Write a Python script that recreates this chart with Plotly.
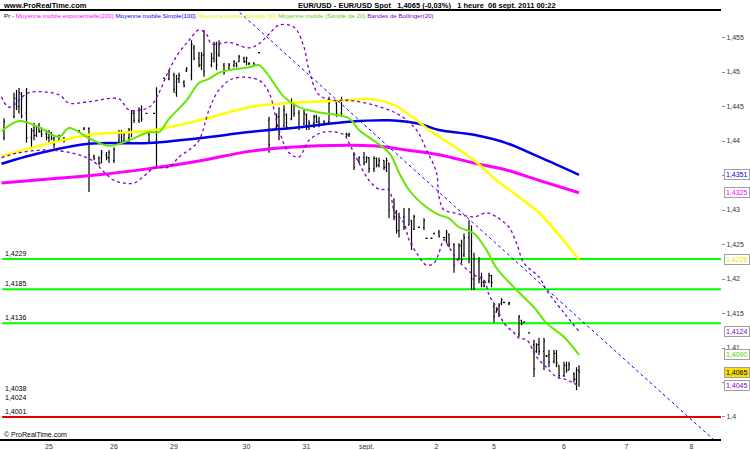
import plotly.graph_objects as go

# ---------------- OHLC bars (hour index, prices) ----------------
bar_hour = [0, 4, 5, 6, 7, 9, 11, 12, 13, 14, 15, 17, 18, 19, 20, 22, 24, 30, 32, 34,
            36, 38, 39, 41, 42, 44, 46, 47, 48, 50, 51, 52, 54, 55, 57, 58, 60, 61, 64, 66,
            68, 69, 70, 72, 73, 75, 76, 78, 79, 80, 83, 84, 85, 86, 88, 90, 92, 93, 94, 96,
            97, 98, 100, 102, 106, 109, 110, 112, 113, 115, 116, 118, 120, 121, 122, 124, 125, 126, 128, 130,
            133, 135, 137, 138, 140, 142, 144, 145, 146, 148, 149, 150, 152, 153, 154, 156, 157, 158, 160, 162,
            163, 164, 166, 168, 169, 171, 172, 174, 176, 177, 178, 180, 182, 183, 184, 186, 187, 188, 190, 191,
            192, 194, 195, 196, 197, 198, 199, 200, 202, 206, 207, 208, 210, 212, 213, 214, 216, 217, 218, 220,
            221, 222, 224, 225, 226, 228, 229, 230]
bar_open = [1.4405, 1.4435, 1.4462, 1.4450, 1.4468, 1.4440, 1.4405, 1.4415, 1.4408, 1.4420, 1.4414, 1.4410, 1.4405, 1.4412, 1.4404, 1.4402, 1.4404, 1.4413, 1.4417, 1.4418,
            1.4378, 1.4375, 1.4368, 1.4380, 1.4376, 1.4372, 1.4400, 1.4413, 1.4400, 1.4405, 1.4412, 1.4440, 1.4430, 1.4445, 1.4440, 1.4410, 1.4440, 1.4400, 1.4491, 1.4490,
            1.4495, 1.4470, 1.4490, 1.4485, 1.4502, 1.4495, 1.4535, 1.4520, 1.4510, 1.4525, 1.4510, 1.4520, 1.4540, 1.4525, 1.4510, 1.4505, 1.4510, 1.4512, 1.4515, 1.4520,
            1.4515, 1.4512, 1.4513, 1.4528, 1.4430, 1.4420, 1.4435, 1.4422, 1.4438, 1.4432, 1.4455, 1.4440, 1.4425, 1.4438, 1.4420, 1.4426, 1.4435, 1.4428, 1.4425, 1.4428,
            1.4455, 1.4440, 1.4410, 1.4409, 1.4380, 1.4370, 1.4376, 1.4370, 1.4376, 1.4360, 1.4375, 1.4365, 1.4372, 1.4362, 1.4368, 1.4300, 1.4290, 1.4270, 1.4290, 1.4278,
            1.4285, 1.4272, 1.4275, 1.4275, 1.4259, 1.4259, 1.4266, 1.4268, 1.4260, 1.4260, 1.4265, 1.4250, 1.4230, 1.4248, 1.4235, 1.4260, 1.4240, 1.4200, 1.4225, 1.4200,
            1.4195, 1.4197, 1.4205, 1.4160, 1.4152, 1.4150, 1.4165, 1.4166, 1.4164, 1.4120, 1.4140, 1.4137, 1.4122, 1.4105, 1.4095, 1.4105, 1.4095, 1.4089, 1.4090, 1.4080,
            1.4092, 1.4075, 1.4060, 1.4075, 1.4068, 1.4062, 1.4055, 1.4068]
bar_high = [1.4433, 1.4470, 1.4474, 1.4477, 1.4471, 1.4477, 1.4419, 1.4426, 1.4423, 1.4426, 1.4420, 1.4416, 1.4416, 1.4413, 1.4406, 1.4409, 1.4406, 1.4416, 1.4420, 1.4420,
            1.4380, 1.4378, 1.4387, 1.4384, 1.4387, 1.4391, 1.4416, 1.4416, 1.4413, 1.4419, 1.4445, 1.4445, 1.4449, 1.4452, 1.4441, 1.4412, 1.4441, 1.4478, 1.4492, 1.4503,
            1.4499, 1.4496, 1.4499, 1.4488, 1.4507, 1.4546, 1.4539, 1.4529, 1.4529, 1.4561, 1.4528, 1.4544, 1.4544, 1.4546, 1.4513, 1.4513, 1.4517, 1.4514, 1.4525, 1.4522,
            1.4522, 1.4514, 1.4514, 1.4529, 1.4435, 1.4440, 1.4449, 1.4452, 1.4440, 1.4462, 1.4455, 1.4445, 1.4445, 1.4440, 1.4430, 1.4438, 1.4438, 1.4435, 1.4430, 1.4464,
            1.4459, 1.4464, 1.4412, 1.4412, 1.4383, 1.4378, 1.4384, 1.4378, 1.4376, 1.4378, 1.4376, 1.4376, 1.4372, 1.4376, 1.4368, 1.4317, 1.4300, 1.4296, 1.4303, 1.4303,
            1.4285, 1.4293, 1.4276, 1.4288, 1.4260, 1.4260, 1.4267, 1.4271, 1.4261, 1.4271, 1.4266, 1.4252, 1.4252, 1.4257, 1.4266, 1.4285, 1.4278, 1.4238, 1.4232, 1.4209,
            1.4199, 1.4209, 1.4206, 1.4165, 1.4159, 1.4165, 1.4172, 1.4167, 1.4167, 1.4148, 1.4141, 1.4138, 1.4123, 1.4112, 1.4107, 1.4115, 1.4115, 1.4090, 1.4097, 1.4097,
            1.4097, 1.4075, 1.4080, 1.4080, 1.4080, 1.4065, 1.4072, 1.4075]
bar_low = [1.4401, 1.4433, 1.4445, 1.4440, 1.4433, 1.4398, 1.4391, 1.4401, 1.4406, 1.4412, 1.4406, 1.4401, 1.4397, 1.4401, 1.4390, 1.4401, 1.4398, 1.4412, 1.4416, 1.4326,
           1.4372, 1.4365, 1.4368, 1.4372, 1.4368, 1.4368, 1.4397, 1.4397, 1.4398, 1.4398, 1.4406, 1.4426, 1.4426, 1.4428, 1.4439, 1.4397, 1.4439, 1.4361, 1.4490, 1.4488,
           1.4470, 1.4464, 1.4484, 1.4478, 1.4500, 1.4488, 1.4517, 1.4507, 1.4503, 1.4493, 1.4507, 1.4514, 1.4503, 1.4522, 1.4496, 1.4503, 1.4507, 1.4507, 1.4514, 1.4513,
           1.4510, 1.4510, 1.4510, 1.4527, 1.4383, 1.4416, 1.4401, 1.4420, 1.4416, 1.4430, 1.4435, 1.4416, 1.4423, 1.4416, 1.4416, 1.4419, 1.4426, 1.4420, 1.4423, 1.4426,
           1.4435, 1.4435, 1.4406, 1.4406, 1.4358, 1.4368, 1.4365, 1.4368, 1.4354, 1.4355, 1.4362, 1.4362, 1.4358, 1.4355, 1.4288, 1.4285, 1.4266, 1.4260, 1.4271, 1.4278,
           1.4242, 1.4271, 1.4274, 1.4271, 1.4258, 1.4258, 1.4265, 1.4260, 1.4259, 1.4252, 1.4246, 1.4209, 1.4228, 1.4223, 1.4232, 1.4223, 1.4184, 1.4184, 1.4194, 1.4188,
           1.4188, 1.4194, 1.4188, 1.4137, 1.4151, 1.4145, 1.4162, 1.4165, 1.4162, 1.4116, 1.4133, 1.4137, 1.4121, 1.4058, 1.4093, 1.4090, 1.4068, 1.4087, 1.4072, 1.4078,
           1.4072, 1.4057, 1.4058, 1.4064, 1.4068, 1.4050, 1.4039, 1.4044]
bar_close = [1.4428, 1.4462, 1.4450, 1.4470, 1.4436, 1.4405, 1.4415, 1.4408, 1.4420, 1.4414, 1.4410, 1.4405, 1.4412, 1.4404, 1.4395, 1.4407, 1.4400, 1.4415, 1.4419, 1.4380,
             1.4375, 1.4368, 1.4384, 1.4376, 1.4383, 1.4388, 1.4413, 1.4400, 1.4410, 1.4416, 1.4440, 1.4430, 1.4445, 1.4432, 1.4440, 1.4400, 1.4440, 1.4465, 1.4491, 1.4500,
             1.4475, 1.4490, 1.4495, 1.4480, 1.4505, 1.4540, 1.4520, 1.4510, 1.4525, 1.4500, 1.4520, 1.4540, 1.4510, 1.4540, 1.4500, 1.4510, 1.4515, 1.4509, 1.4522, 1.4515,
             1.4520, 1.4513, 1.4511, 1.4528, 1.4395, 1.4435, 1.4410, 1.4445, 1.4420, 1.4455, 1.4440, 1.4420, 1.4440, 1.4420, 1.4426, 1.4435, 1.4428, 1.4425, 1.4428, 1.4455,
             1.4440, 1.4460, 1.4409, 1.4410, 1.4362, 1.4376, 1.4368, 1.4376, 1.4360, 1.4375, 1.4365, 1.4372, 1.4362, 1.4372, 1.4300, 1.4290, 1.4270, 1.4290, 1.4275, 1.4300,
             1.4250, 1.4290, 1.4275, 1.4285, 1.4259, 1.4259, 1.4266, 1.4262, 1.4260, 1.4268, 1.4250, 1.4220, 1.4248, 1.4228, 1.4260, 1.4230, 1.4200, 1.4230, 1.4200, 1.4195,
             1.4190, 1.4205, 1.4195, 1.4145, 1.4155, 1.4162, 1.4170, 1.4166, 1.4165, 1.4145, 1.4135, 1.4138, 1.4122, 1.4070, 1.4105, 1.4095, 1.4110, 1.4088, 1.4080, 1.4092,
             1.4078, 1.4060, 1.4075, 1.4068, 1.4076, 1.4055, 1.4068, 1.4065]

# ---------------- Indicator lines ----------------
ma200_hour = [-1, 18, 38, 58, 78, 98, 114, 138, 148, 161, 174, 188, 201, 214, 230]
ma200_val = [1.4339, 1.4345, 1.4351, 1.4360, 1.4371, 1.4385, 1.4391, 1.4394, 1.4393, 1.4387, 1.4380, 1.4368, 1.4358, 1.4343, 1.4325]

ma100_hour = [-1, 16, 34, 58, 78, 98, 118, 138, 154, 166, 174, 188, 201, 214, 230]
ma100_val = [1.4367, 1.4384, 1.4396, 1.4397, 1.4404, 1.4413, 1.4420, 1.4428, 1.4430, 1.4425, 1.4416, 1.4409, 1.4397, 1.4377, 1.4351]

ma50_hour = [-1, 34, 58, 78, 98, 114, 138, 146, 156, 164, 170, 178, 188, 197, 206, 214, 222, 230]
ma50_val = [1.4378, 1.4409, 1.4415, 1.4430, 1.4449, 1.4455, 1.4459, 1.4461, 1.4452, 1.4433, 1.4416, 1.4397, 1.4372, 1.4343, 1.4319, 1.4296, 1.4264, 1.4228]

ma20_hour = [-1, 6, 14, 22, 26, 34, 42, 50, 58, 62, 66, 73, 78, 82, 86, 98, 102, 105, 112, 118,
             125, 138, 142, 154, 158, 162, 169, 174, 178, 182, 188, 193, 197, 205, 212, 217, 224, 230]
ma20_val = [1.4414, 1.4429, 1.4420, 1.4406, 1.4419, 1.4404, 1.4393, 1.4401, 1.4413, 1.4413, 1.4432, 1.4459, 1.4484, 1.4490, 1.4499, 1.4507, 1.4510, 1.4499, 1.4464, 1.4449,
            1.4442, 1.4433, 1.4416, 1.4383, 1.4354, 1.4329, 1.4304, 1.4293, 1.4288, 1.4275, 1.4266, 1.4242, 1.4216, 1.4184, 1.4159, 1.4136, 1.4116, 1.4090]

bb_up_hour = [-1, 2, 10, 22, 26, 34, 46, 50, 58, 62, 66, 70, 74, 78, 81, 83, 90, 98, 102, 106,
              110, 116, 120, 122, 126, 132, 138, 148, 158, 165, 169, 173, 174, 176, 180, 188, 193, 197, 202, 205,
              208, 214, 217, 224, 230]
bb_up_val = [1.4464, 1.4449, 1.4470, 1.4467, 1.4455, 1.4457, 1.4461, 1.4445, 1.4449, 1.4470, 1.4503, 1.4528, 1.4546, 1.4561, 1.4555, 1.4541, 1.4543, 1.4535, 1.4541, 1.4555,
             1.4568, 1.4565, 1.4536, 1.4503, 1.4467, 1.4459, 1.4459, 1.4452, 1.4438, 1.4416, 1.4387, 1.4354, 1.4319, 1.4300, 1.4296, 1.4290, 1.4296, 1.4290, 1.4275, 1.4252,
             1.4223, 1.4203, 1.4184, 1.4151, 1.4124]

bb_dn_hour = [-1, 6, 18, 30, 36, 40, 44, 48, 52, 56, 60, 66, 70, 74, 78, 82, 86, 92, 102, 106,
              110, 114, 118, 122, 128, 136, 138, 142, 146, 150, 154, 156, 160, 162, 165, 169, 172, 174, 176, 178,
              182, 188, 192, 194, 197, 200, 204, 206, 209, 213, 217, 221, 225, 230]
bb_dn_val = [1.4376, 1.4383, 1.4387, 1.4380, 1.4370, 1.4355, 1.4343, 1.4339, 1.4339, 1.4349, 1.4361, 1.4362, 1.4377, 1.4387, 1.4401, 1.4445, 1.4474, 1.4491, 1.4488, 1.4470,
             1.4416, 1.4383, 1.4377, 1.4401, 1.4413, 1.4409, 1.4397, 1.4368, 1.4343, 1.4330, 1.4329, 1.4300, 1.4281, 1.4257, 1.4238, 1.4220, 1.4223, 1.4238, 1.4257, 1.4246,
             1.4225, 1.4206, 1.4199, 1.4177, 1.4159, 1.4136, 1.4122, 1.4114, 1.4112, 1.4087, 1.4072, 1.4058, 1.4054, 1.4045]

trend_hour = [80, 290]
trend_val = [1.4633, 1.3947]

support_levels = [1.4229, 1.4185, 1.4136]
red_level = 1.4000

xtick_hours = [18, 44, 68, 97, 121, 145, 173, 196, 224, 249, 275]
xtick_text = ["25", "26", "29", "30", "31", "sept.", "2", "5", "6", "7", "8"]
ytick_vals = [1.40, 1.405, 1.41, 1.415, 1.42, 1.425, 1.43, 1.435, 1.44, 1.445, 1.45, 1.455]
ytick_hidden = [1.405, 1.435]  # covered by value tags in the original

X_RANGE = [-1.6, 286.8]
Y_RANGE = [1.39681, 1.45899]


def fr(v, d=4):
    return f"{v:.{d}f}".replace(".", ",")


def tick_label(v):
    if v in ytick_hidden:
        return ""
    s = f"{v:.3f}".rstrip("0").rstrip(".")
    return s.replace(".", ",")


fig = go.Figure()

MAG = "#FF00FF"
BLU = "#0000E6"
YEL = "#FFFF00"
GRN = "#66E600"
PUR = "#8000C8"

for lvl in support_levels:
    fig.add_shape(type="line", xref="paper", x0=0.003, x1=1, yref="y", y0=lvl, y1=lvl,
                  line=dict(color="#00FF00", width=2), layer="below")
fig.add_shape(type="line", xref="paper", x0=0.003, x1=1, yref="y", y0=red_level, y1=red_level,
              line=dict(color="#E00000", width=2), layer="below")

fig.add_trace(go.Scatter(x=ma200_hour, y=ma200_val, mode="lines", line=dict(color=MAG, width=3, shape="spline")))
fig.add_trace(go.Scatter(x=ma100_hour, y=ma100_val, mode="lines", line=dict(color=BLU, width=2.5, shape="spline")))
fig.add_trace(go.Scatter(x=ma50_hour, y=ma50_val, mode="lines", line=dict(color=YEL, width=2.5, shape="spline")))
fig.add_trace(go.Scatter(x=ma20_hour, y=ma20_val, mode="lines", line=dict(color=GRN, width=2, shape="spline")))
fig.add_trace(go.Scatter(x=bb_up_hour, y=bb_up_val, mode="lines", line=dict(color=PUR, width=1.3, dash="dot", shape="spline")))
fig.add_trace(go.Scatter(x=bb_dn_hour, y=bb_dn_val, mode="lines", line=dict(color=PUR, width=1.3, dash="dot", shape="spline")))
fig.add_trace(go.Scatter(x=trend_hour, y=trend_val, mode="lines", line=dict(color="#0000FF", width=1, dash="dot")))

fig.add_trace(go.Ohlc(x=bar_hour, open=bar_open, high=bar_high, low=bar_low, close=bar_close,
                      increasing=dict(line=dict(color="black", width=1.2)),
                      decreasing=dict(line=dict(color="black", width=1.2)),
                      tickwidth=0.4, hoverinfo="skip"))

# top border
fig.add_shape(type="line", xref="paper", yref="paper", x0=0, x1=1, y0=1, y1=1,
              line=dict(color="black", width=2))

W_PLOT = 721.0
H_TOP, H_BOT = 10.0, 439.0


def px(xp):
    return xp / W_PLOT


def py(yp):
    return (H_BOT - yp) / (H_BOT - H_TOP)


ann = []
FONT = "Liberation Sans"
ann.append(dict(text="<b>www.ProRealTime.com</b>", x=px(1), y=py(5), xanchor="left", yanchor="middle",
                font=dict(size=7.5, color="black", family=FONT)))
ann.append(dict(text="<b>EUR/USD - EUR/USD Spot   " + fr(bar_close[-1]) + " (-0,03%)   1 heure  06 sept. 2011 00:22</b>",
                x=px(296), y=py(5), xanchor="left", yanchor="middle",
                font=dict(size=7.5, color="black", family=FONT)))
legend_parts = [
    ("Pr - ", "black"),
    ("Moyenne mobile exponentielle(200) ", MAG),
    ("Moyenne mobile Simple(100) ", "#0000FF"),
    ("Moyenne mobile (Simple 50) ", "#F0F000"),
    ("Moyenne mobile (Simple de 20) ", "#66CC00"),
    ("Bandes de Bollinger(20)", PUR),
]
leg = "".join(f"<span style='color:{c}'>{t}</span>" for t, c in legend_parts)
ann.append(dict(text=leg, x=px(2), y=py(15), xanchor="left", yanchor="middle",
                font=dict(size=6.2, family=FONT)))

for lvl in support_levels:
    ann.append(dict(text=fr(lvl), x=px(3), y=lvl, yref="y", xanchor="left", yanchor="bottom",
                    font=dict(size=7, color="black", family=FONT)))
ann.append(dict(text="1,4038", x=px(3), y=py(388), xanchor="left", yanchor="middle",
                font=dict(size=7, color="black", family=FONT)))
ann.append(dict(text="1,4024", x=px(3), y=py(397), xanchor="left", yanchor="middle",
                font=dict(size=7, color="black", family=FONT)))
ann.append(dict(text="1,4001", x=px(3), y=red_level, yref="y", xanchor="left", yanchor="bottom",
                font=dict(size=7, color="black", family=FONT)))
ann.append(dict(text="© ProRealTime.com", x=px(2), y=py(434), xanchor="left", yanchor="middle",
                font=dict(size=7, color="black", family=FONT)))

# right side value tags
tags = [
    (ma100_val[-1], BLU, "white"),
    (ma200_val[-1], MAG, "white"),
    (ma50_val[-1], "#E8E800", "white"),
    (bb_up_val[-1], PUR, "white"),
    (ma20_val[-1], "#55CC00", "white"),
    (bar_close[-1], "black", "#FFE000"),
    (bb_dn_val[-1], PUR, "white"),
]
for v, col, bg in tags:
    ann.append(dict(text=fr(v), x=px(724), y=v, yref="y", xanchor="left", yanchor="middle",
                    font=dict(size=7, color=col, family=FONT), bgcolor=bg,
                    bordercolor="#A0A0A0", borderwidth=1, borderpad=1))

for a in ann:
    a.setdefault("xref", "paper")
    a.setdefault("yref", "paper")
    a["showarrow"] = False

fig.update_layout(
    width=750, height=450,
    margin=dict(l=0, r=29, t=10, b=11),
    paper_bgcolor="white", plot_bgcolor="white",
    showlegend=False, hovermode=False,
    annotations=ann,
    xaxis=dict(range=X_RANGE, showgrid=False, zeroline=False, rangeslider=dict(visible=False),
               showline=True, linecolor="black", linewidth=2, mirror=False,
               tickmode="array", tickvals=xtick_hours, ticktext=xtick_text,
               ticks="", tickfont=dict(size=7, color="#333", family=FONT), automargin=False),
    yaxis=dict(range=Y_RANGE, side="right", showgrid=False, zeroline=False, showline=False,
               tickmode="array", tickvals=ytick_vals, ticktext=[tick_label(v) for v in ytick_vals],
               ticks="outside", ticklen=3, tickcolor="#888",
               tickfont=dict(size=7, color="#333", family=FONT), automargin=False),
)

fig.write_html("out.html", config={"staticPlot": True},
               post_script="document.body.style.margin='0px';document.body.style.padding='0px';")
